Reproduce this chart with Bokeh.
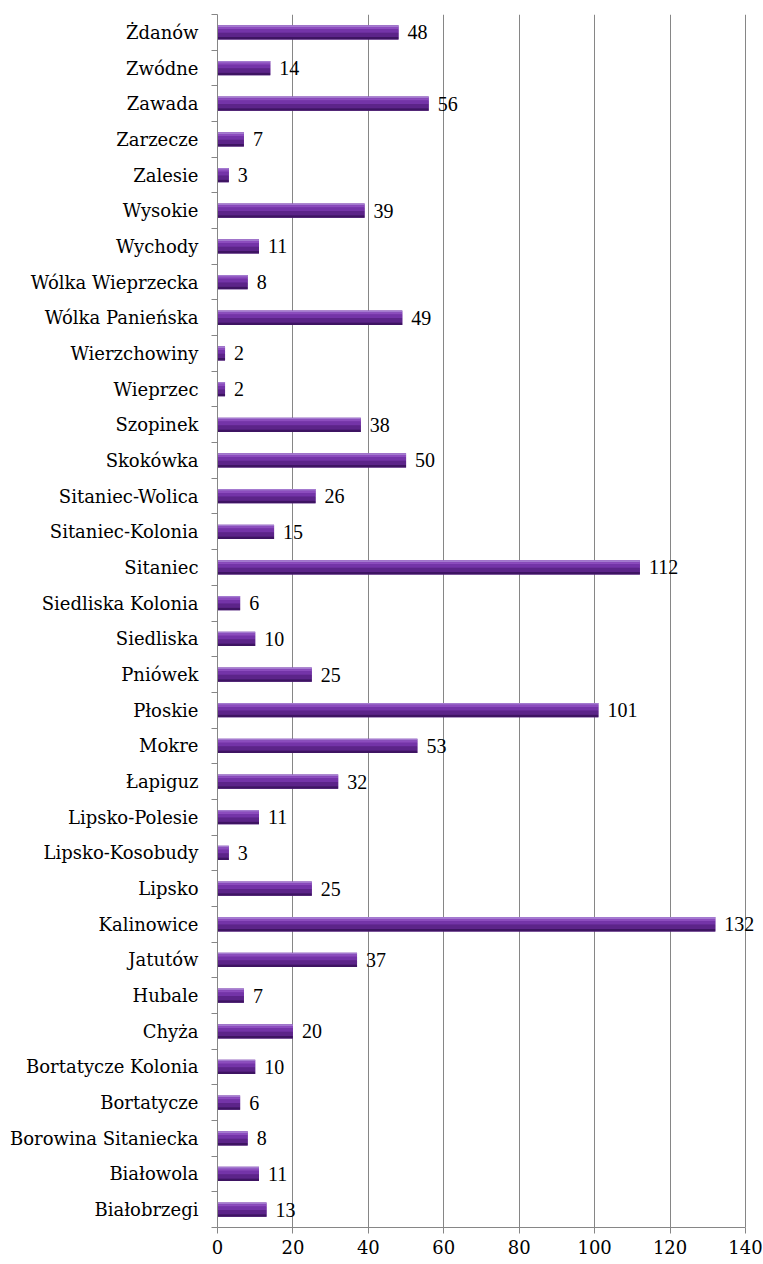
from bokeh.plotting import figure
from bokeh.models import ColumnDataSource, Range1d, FixedTicker, LabelSet
from bokeh.transform import dodge
from bokeh.embed import file_html
from bokeh.resources import INLINE

# bottom to top
names = ["Białobrzegi", "Białowola", "Borowina Sitaniecka", "Bortatycze", "Bortatycze Kolonia",
         "Chyża", "Hubale", "Jatutów", "Kalinowice", "Lipsko", "Lipsko-Kosobudy", "Lipsko-Polesie",
         "Łapiguz", "Mokre", "Płoskie", "Pniówek", "Siedliska", "Siedliska Kolonia", "Sitaniec",
         "Sitaniec-Kolonia", "Sitaniec-Wolica", "Skokówka", "Szopinek", "Wieprzec", "Wierzchowiny",
         "Wólka Panieńska", "Wólka Wieprzecka", "Wychody", "Wysokie", "Zalesie", "Zarzecze",
         "Zawada", "Zwódne", "Żdanów"]
values = [13, 11, 8, 6, 10, 20, 7, 37, 132, 25, 3, 11, 32, 53, 101, 25, 10, 6, 112, 15, 26, 50,
          38, 2, 2, 49, 8, 11, 39, 3, 7, 56, 14, 48]
x_ticks = [0, 20, 40, 60, 80, 100, 120, 140]

n = len(names)
centers = [i + 0.5 for i in range(n)]
src = ColumnDataSource(dict(y=centers, v=values, lab=[str(v) for v in values]))

FONT = "DejaVu Serif"
GRAY = "#868686"

PX_PER_UNIT = 528 / 140
FRAME_W = 545
x_end = FRAME_W / PX_PER_UNIT  # extra room to the right so the "132" label is not clipped

p = figure(frame_width=FRAME_W, frame_height=1213, output_backend="svg", toolbar_location=None,
           x_range=Range1d(0, x_end), y_range=Range1d(0, n),
           min_border_left=217, min_border_top=14, min_border_right=1, min_border_bottom=30)
p.outline_line_color = None
p.background_fill_color = "white"

p.hbar(y="y", right="v", left=0, height=0.4, source=src, fill_color="#6E2FA0", line_color=None)
stripes = [(0.175, 0.05, "#A47AD0"), (0.12, 0.06, "#8C4CBE"), (0.04, 0.10, "#7434A8"),
           (-0.07, 0.12, "#5C2489"), (-0.165, 0.07, "#3E1462")]
for off, h, c in stripes:
    p.hbar(y=dodge("y", off, range=p.y_range), right="v", left=0, height=h, source=src,
           fill_color=c, line_color=None)

labels = LabelSet(x="v", y="y", text="lab", source=src, x_offset=9, text_baseline="middle",
                  text_font=FONT, text_font_size="20px", text_color="black")
p.add_layout(labels)

# x axis
p.xaxis.ticker = FixedTicker(ticks=x_ticks)
p.xaxis.bounds = (x_ticks[0], x_ticks[-1])
p.xaxis.axis_line_color = GRAY
p.xaxis.major_tick_line_color = GRAY
p.xaxis.major_tick_out = 6
p.xaxis.major_tick_in = 0
p.xaxis.minor_tick_line_color = None
p.xaxis.major_label_text_font = FONT
p.xaxis.major_label_text_font_size = "18px"
p.xaxis.major_label_text_color = "black"
p.xaxis.major_label_standoff = 6

p.xgrid.ticker = FixedTicker(ticks=x_ticks)
p.xgrid.grid_line_color = GRAY
p.xgrid.grid_line_width = 1
p.ygrid.grid_line_color = None

# y axis: labels at centers, ticks at boundaries
p.yaxis.ticker = FixedTicker(ticks=centers, minor_ticks=list(range(n + 1)))
p.yaxis.major_label_overrides = {c: nm for c, nm in zip(centers, names)}
p.yaxis.axis_line_color = GRAY
p.yaxis.major_tick_line_color = None
p.yaxis.major_tick_out = 0
p.yaxis.major_tick_in = 0
p.yaxis.minor_tick_line_color = GRAY
p.yaxis.minor_tick_out = 6
p.yaxis.minor_tick_in = 0
p.yaxis.major_label_text_font = FONT
p.yaxis.major_label_text_font_size = "18px"
p.yaxis.major_label_text_color = "black"
p.yaxis.major_label_standoff = 13

open("out.html", "w").write(file_html(p, INLINE))
